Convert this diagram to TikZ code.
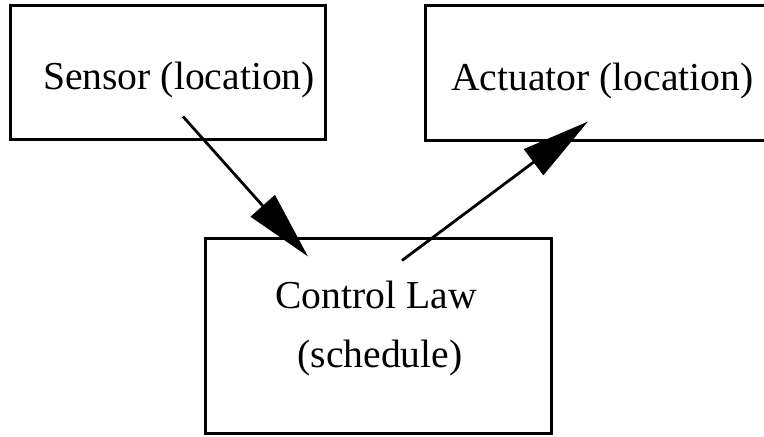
\documentclass[tikz,border=0pt]{standalone}
\usepackage{fontspec}
\setmainfont{Liberation Serif}
\usetikzlibrary{arrows.meta}

\tikzset{
	boite/.style={draw, line width=1.5pt, inner sep=0pt},
	texte/.style={anchor=base, inner sep=0pt, font=\fontsize{19.8}{29.5}\selectfont},
	fleche/.style={line width=1.4pt, -{Triangle[length=34pt, width=16pt]}}
}

\begin{document}
\begin{tikzpicture}[x=0.5pt, y=-0.5pt]
	\useasboundingbox (0,0) rectangle (764,436);
	%les boites
	\node[boite, minimum width=157.5pt, minimum height=67pt] (sensor) at (167.5,72) {};
	\node[boite, minimum width=177pt, minimum height=67.5pt] (actuator) at (602,72.5) {};
	\node[boite, minimum width=173pt, minimum height=97.5pt] (law) at (378,335.5) {};
	%les textes
	\node[texte] (sensortxt) at (179,89) {Sensor (location)};
	\node[texte] (actuatortxt) at (602.5,90) {Actuator (location)};
	\node[texte] (lawtxt1) at (376,308) {Control Law};
	\node[texte] (lawtxt2) at (380,367) {(schedule)};
	%les fleches
	\draw[fleche] ([shift={(15.5,-24)}]sensor.south) -- ([shift={(-70,20)}]law.north);
	\draw[fleche] ([shift={(24,24)}]law.north) -- ([shift={(-14,-20)}]actuator.south);
\end{tikzpicture}
\end{document}
